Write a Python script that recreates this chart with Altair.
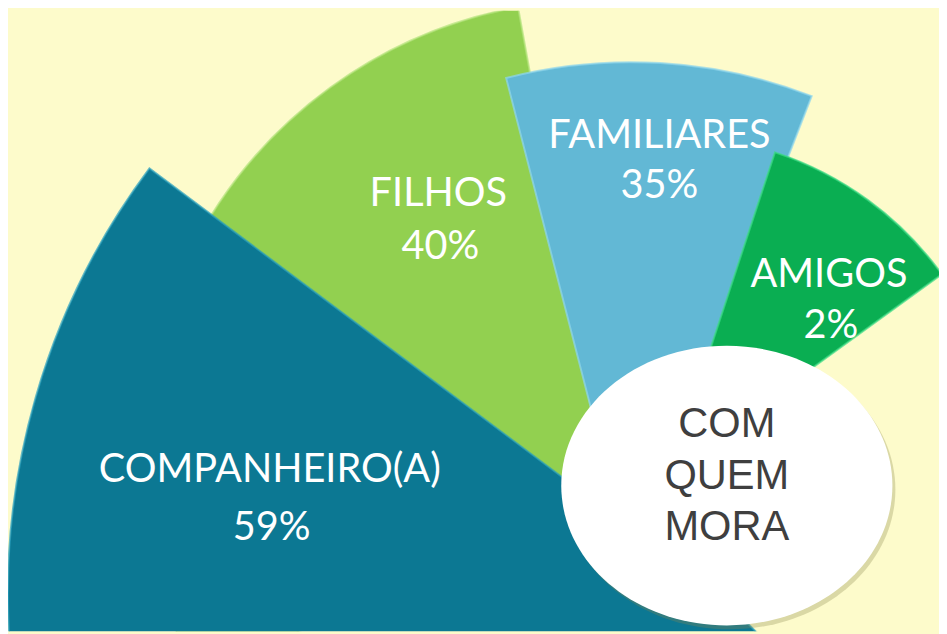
import math
import altair as alt
import pandas as pd

# ---- data ----
categories = ["COMPANHEIRO(A)", "FILHOS", "FAMILIARES", "AMIGOS"]
percent = [59, 40, 35, 2]
center_lines = ["COM", "QUEM", "MORA"]

# ---- styles ----
fills = ["#0C7893", "#92D050", "#62B8D5", "#0AAE52"]
rims = ["#2A9FBD", "#B3E27C", "#8FD5EC", "#3DDB86"]
BG = "#FDFBCB"

# ---- layout (page pixels) ----
sec_cx = [724, 605, 636, 676]
sec_cy = [596, 459, 565, 472]
sec_r = [716, 462, 505, 338]
sec_a0 = [135.0, 240.0, 345.6, 18.2]
sec_a1 = [306.8, 349.7, 381.2, 54.1]
sec_z = [3, 0, 1, 2]
name_xy = [(272, 483), (442, 205), (665, 147), (836, 287)]
pct_xy = [(274, 542), (444, 258), (665, 197), (838, 338)]
ell_cx, ell_cy, ell_rx, ell_ry = 733, 487, 167, 141

W, H = 939, 626
xs = alt.Scale(domain=[8, 947], range=[0, W])
ys = alt.Scale(domain=[8, 634], range=[0, H])

rows = []
for i, c in enumerate(categories):
    rows.append(dict(cat=c, pct=percent[i], cx=sec_cx[i], cy=sec_cy[i], r=sec_r[i],
                     t0=math.radians(sec_a0[i]), t1=math.radians(sec_a1[i]),
                     z=sec_z[i], fill=fills[i], rim=rims[i],
                     nx=name_xy[i][0], ny=name_xy[i][1],
                     px=pct_xy[i][0], py=pct_xy[i][1],
                     ptxt=f"{percent[i]}%"))
df = pd.DataFrame(rows).sort_values("z").reset_index(drop=True)

base = alt.Chart(df)

sectors = base.mark_arc(clip=True, strokeWidth=2, strokeOpacity=0.7).encode(
    x=alt.X("cx:Q", scale=xs, axis=None),
    y=alt.Y("cy:Q", scale=ys, axis=None),
    theta=alt.Theta("t0:Q", scale=None),
    theta2="t1:Q",
    radius=alt.Radius("r:Q", scale=None),
    fill=alt.Fill("fill:N", scale=None),
    stroke=alt.Stroke("rim:N", scale=None),
    order=alt.Order("z:Q"),
)

names = base.mark_text(font="Lato", fontSize=40, color="white", align="center",
                       baseline="alphabetic").encode(
    x=alt.X("nx:Q", scale=xs), y=alt.Y("ny:Q", scale=ys), text="cat:N")
pcts = base.mark_text(font="Lato", fontSize=40, color="white", align="center",
                      baseline="alphabetic").encode(
    x=alt.X("px:Q", scale=xs), y=alt.Y("py:Q", scale=ys), text="ptxt:N")

k = ell_ry / ell_rx
ell_path = f"M-1,0A1,{k:.4f},0,1,1,1,0A1,{k:.4f},0,1,1,-1,0Z"
ell_df = pd.DataFrame({"x": [ell_cx], "y": [ell_cy], "sx": [ell_cx + 3], "sy": [ell_cy + 4],
                       "label": ["\n".join(center_lines)]})
ell_base = alt.Chart(ell_df)
shadow = ell_base.mark_point(shape=ell_path, size=(2 * ell_rx) ** 2, filled=True,
                             fill="#8C8850", opacity=0.3, strokeWidth=0).encode(
    x=alt.X("sx:Q", scale=xs), y=alt.Y("sy:Q", scale=ys))
ellipse = ell_base.mark_point(shape=ell_path, size=(2 * ell_rx) ** 2, filled=True,
                              fill="white", opacity=1, strokeWidth=0).encode(
    x=alt.X("x:Q", scale=xs), y=alt.Y("y:Q", scale=ys))
center_text = ell_base.mark_text(font="Liberation Sans", fontSize=42, color="#3F3F3F",
                                 align="center", baseline="alphabetic", lineBreak="\n",
                                 lineHeight=52).encode(
    x=alt.X("x:Q", scale=xs), y=alt.value(438 - 8), text="label:N")

chart = alt.layer(sectors, names, pcts, shadow, ellipse, center_text).properties(
    width=W, height=H, autosize=alt.AutoSizeParams(type="none"), padding=0,
    background=BG,
).configure_view(stroke=None)

chart.save("out.html", embed_options={"renderer": "svg", "actions": False})
